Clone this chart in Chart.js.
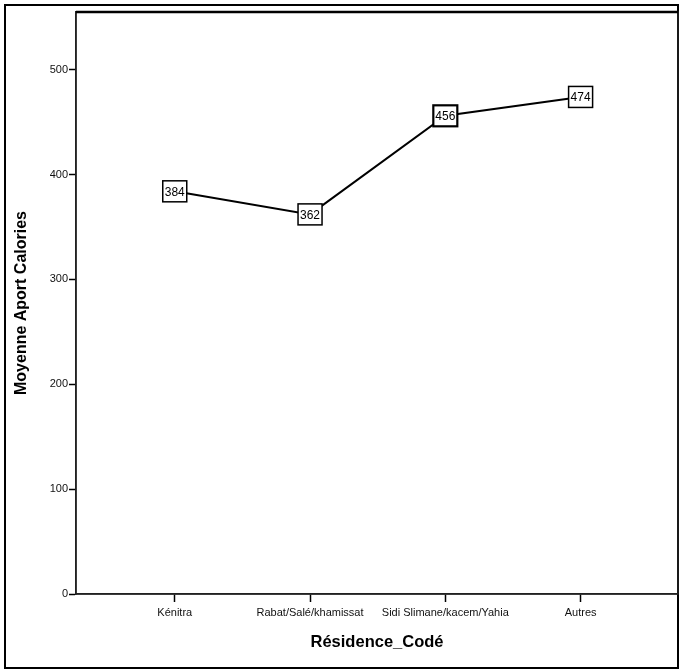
<!DOCTYPE html>
<html>
<head>
<meta charset="utf-8">
<script src="https://cdn.jsdelivr.net/npm/chart.js@4.4.0/dist/chart.umd.min.js"></script>
<style>
  html, body { margin: 0; padding: 0; background: #fff; }
  #wrap { width: 681px; height: 672px; }
</style>
</head>
<body>
<div id="wrap"><canvas id="chart" width="681" height="672"></canvas></div>
<script>
// Data
const categories = ['Kénitra', 'Rabat/Salé/khamissat', 'Sidi Slimane/kacem/Yahia', 'Autres'];
const meanCalories = [384, 362, 456, 474];
const yTicks = [0, 100, 200, 300, 400, 500];

const narrow = '"Liberation Sans Narrow", "Liberation Sans", Arial, sans-serif';
const bold = '"Liberation Sans", Arial, sans-serif';

// Outer frame + plot box
const framePlugin = {
  id: 'frame',
  afterDraw(chart) {
    const ctx = chart.ctx;
    const a = chart.chartArea;
    ctx.save();
    ctx.strokeStyle = '#000';
    ctx.lineWidth = 2;
    ctx.strokeRect(5, 5, 673, 663);
    ctx.lineWidth = 1.5;
    ctx.strokeStyle = '#222';
    ctx.strokeRect(a.left, a.top, a.right - a.left, a.bottom - a.top);
    ctx.lineWidth = 2.5;
    ctx.strokeStyle = '#000';
    ctx.beginPath();
    ctx.moveTo(a.left, a.top);
    ctx.lineTo(a.right, a.top);
    ctx.stroke();
    ctx.restore();
  }
};

// Boxed value labels on each point
const boxLabels = {
  id: 'boxLabels',
  afterDatasetsDraw(chart) {
    const ctx = chart.ctx;
    const meta = chart.getDatasetMeta(0);
    ctx.save();
    ctx.font = '12px ' + narrow;
    ctx.textAlign = 'center';
    ctx.textBaseline = 'middle';
    meta.data.forEach((pt, i) => {
      const w = 24, h = 21;
      ctx.fillStyle = '#fff';
      ctx.fillRect(pt.x - w / 2, pt.y - h / 2, w, h);
      ctx.strokeStyle = '#000';
      ctx.lineWidth = i === 2 ? 2.2 : 1.5;
      ctx.strokeRect(pt.x - w / 2, pt.y - h / 2, w, h);
      ctx.fillStyle = '#000';
      ctx.fillText(String(meanCalories[i]), pt.x, pt.y + 1);
    });
    ctx.restore();
  }
};

new Chart(document.getElementById('chart'), {
  type: 'line',
  data: {
    datasets: [{
      data: meanCalories.map((v, i) => ({ x: i + 1, y: v })),
      borderColor: '#000',
      borderWidth: 2,
      pointRadius: 0,
      tension: 0,
      fill: false
    }]
  },
  options: {
    responsive: false,
    animation: false,
    events: [],
    layout: { padding: { left: 0, top: 12, right: 3, bottom: 0 } },
    plugins: { legend: { display: false }, tooltip: { enabled: false } },
    scales: {
      x: {
        type: 'linear',
        min: 0.27,
        max: 4.72,
        afterBuildTicks: s => { s.ticks = categories.map((_, i) => ({ value: i + 1 })); },
        afterFit: s => { s.height = 78; },
        border: { display: true, color: '#222', width: 1.5 },
        grid: { display: true, drawOnChartArea: false, drawTicks: true, tickLength: 8, color: '#000', tickWidth: 1.5 },
        ticks: {
          autoSkip: false,
          maxRotation: 0,
          padding: 4,
          color: '#111',
          font: { family: narrow, size: 11 },
          callback: v => categories[v - 1] || ''
        },
        title: {
          display: true,
          text: 'Résidence_Codé',
          color: '#000',
          font: { family: bold, size: 16.5, weight: 'bold' },
          padding: { top: 20, bottom: 20 }
        }
      },
      y: {
        min: 0,
        max: 555,
        afterBuildTicks: s => { s.ticks = yTicks.map(v => ({ value: v })); },
        afterFit: s => { s.width = 76; },
        border: { display: true, color: '#222', width: 1.5 },
        grid: { display: true, drawOnChartArea: false, drawTicks: true, tickLength: 7, color: '#000', tickWidth: 1.5 },
        ticks: {
          padding: 1,
          color: '#111',
          font: { family: narrow, size: 11 }
        },
        title: {
          display: true,
          text: 'Moyenne Aport Calories',
          color: '#000',
          font: { family: bold, size: 16, weight: 'bold' },
          padding: { top: 12, bottom: 12 }
        }
      }
    }
  },
  plugins: [framePlugin, boxLabels]
});
</script>
</body>
</html>
